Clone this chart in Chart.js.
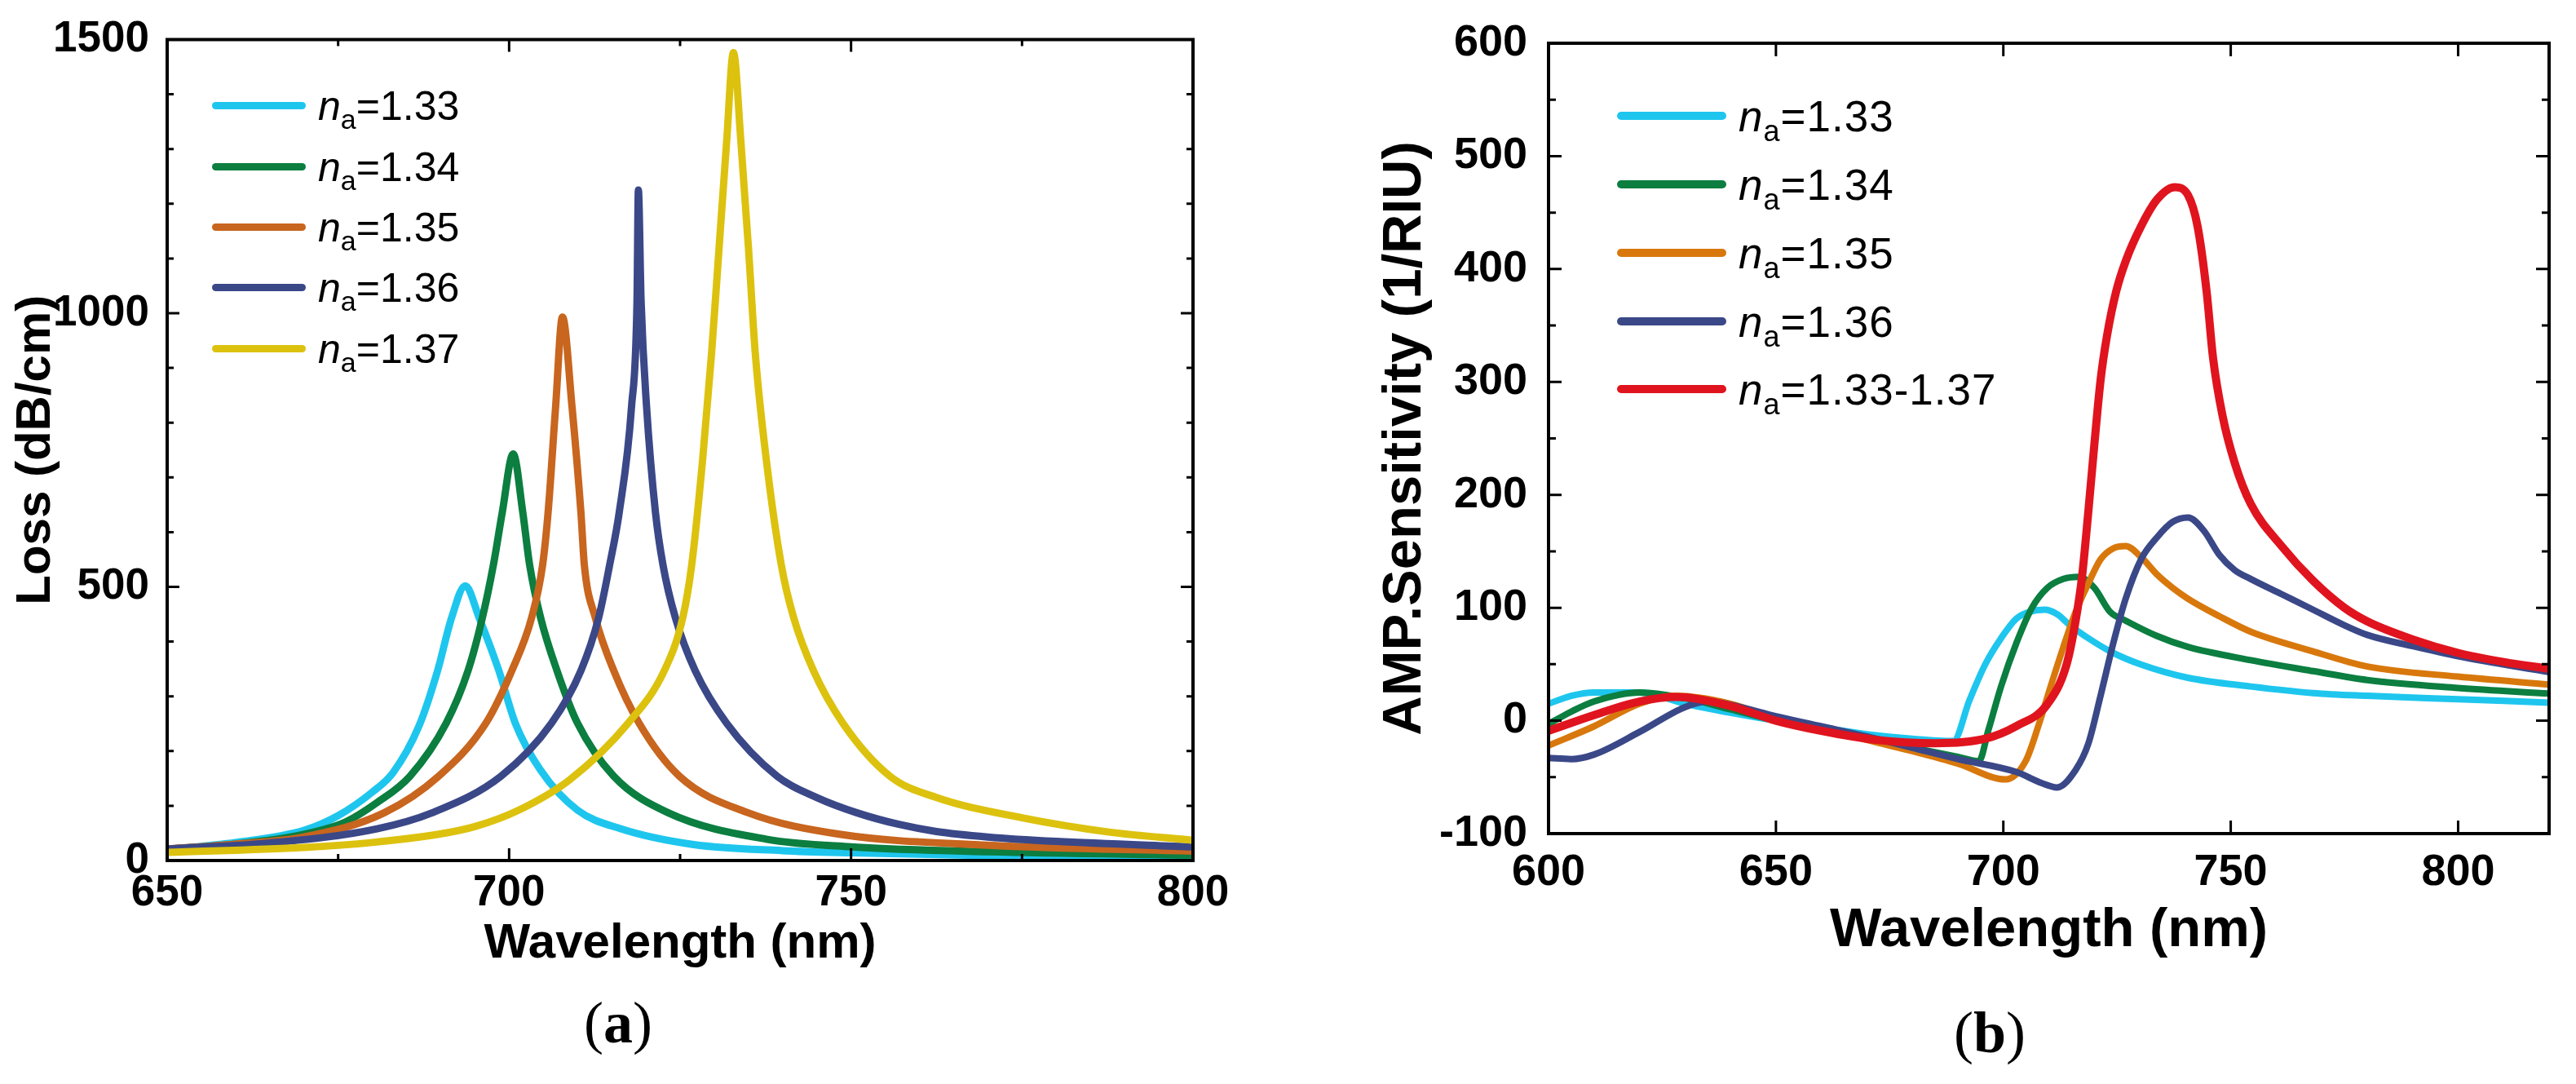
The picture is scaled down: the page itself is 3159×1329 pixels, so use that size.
<!DOCTYPE html>
<html><head><meta charset="utf-8">
<script src="https://cdn.jsdelivr.net/npm/chart.js@4.4.0/dist/chart.umd.min.js"></script>
<style>
html,body{margin:0;padding:0;background:#fff;}
#wrap{position:relative;width:3159px;height:1329px;overflow:hidden;background:#fff;font-family:"Liberation Sans",Arial,sans-serif;}
canvas{position:absolute;top:0;}
.lg-line{position:absolute;border-radius:5px;}
.lg-text{position:absolute;line-height:1;white-space:nowrap;color:#000;}
.lg-text sub{font-size:0.68em;vertical-align:-0.32em;line-height:0;}
.cap{position:absolute;width:200px;text-align:center;font-family:"Liberation Serif","Times New Roman",serif;font-size:72px;line-height:1;color:#000;}
</style></head><body>
<div id="wrap">
<canvas id="ca" width="1560" height="1329" style="left:0"></canvas>
<canvas id="cb" width="1579" height="1329" style="left:1580px"></canvas>
<div class="cap" style="left:658px;top:1218px">(<b>a</b>)</div>
<div class="cap" style="left:2340px;top:1230px">(<b>b</b>)</div>
</div>
<script>
// ---------- Panel (a): Loss (dB/cm) ----------
const lossLabels = ['1.33','1.34','1.35','1.36','1.37'];
const lossXTicks = [650,700,750,800];
const lossXMinor = [675,725,775];
const lossYTicks = [0,500,1000,1500];
const lossYMinor = [100,200,300,400,600,700,800,900,1100,1200,1300,1400];

const lossWl133 = [650,660,670,675,680,683,686.8,689.5,691.6,693.6,695.6,698.5,700.9,704.6,710,716.3,727,740,750,770,800];
const loss133   = [20,33,55,82,125,160,245,345,444,502,444,347,251,165,92,58,29,18,14,9,5];

const lossWl134 = [650,660,670,676,680.7,685.5,690.8,694,696.1,697.7,699,700.6,702,703,704.6,707,710,715.3,723.3,737.6,750,770,800];
const loss134   = [21,30,48,70,106,154,251,347,444,540,636,743,636,540,444,347,251,154,87,39,25,16,10];

const lossWl135 = [650,660,670,681.7,689.7,696.6,700.4,703.3,704.9,705.7,706.8,707.8,709.2,710.5,711,712.6,715.3,719,724.9,735,748.3,770,800];
const loss135   = [21,30,43,87,154,251,347,444,540,636,829,993,829,636,540,444,347,251,154,87,48,28,17];

const lossWl136 = [650,665,680.7,688.7,698.8,706.2,710.5,713.1,714.7,716.1,717.9,718.7,718.9,719.3,720.1,721.4,722.5,724.3,727.2,731.8,739.2,745,750.9,757,762.5,770,780,800];
const loss136   = [21,32,58,87,154,251,347,444,540,636,829,1022,1225,1022,829,636,540,444,347,251,154,115,87,66,53,43,35,25];

const lossWl137 = [650,670,680,689.7,695,701.4,708.9,717.4,722.7,725.4,726.7,728.3,729.6,730.7,731.8,732.8,733.9,735,736,737.6,739.8,741.6,744.5,748.8,755.7,762.5,775,787.7,800];
const loss137   = [15,24,33,48,62,92,148,251,347,444,540,733,926,1119,1312,1476,1312,1119,926,733,540,444,347,251,154,115,78,52,37];

const lossColors = ['#1ec6ee','#0b7e40','#c8651e','#3a4888','#dcc20e'];

// ---------- Panel (b): AMP.Sensitivity (1/RIU) ----------
const sensLabels = ['1.33','1.34','1.35','1.36','1.33-1.37'];
const sensXTicks = [600,650,700,750,800];
const sensYTicks = [-100,0,100,200,300,400,500,600];
const sensYMinor = [-50,50,150,250,350,450,550];

const sensWl133 = [600,605,610,620,630,640,650,660,670,680,689,692.6,696,699.5,702.9,706.3,709.1,711.8,714.6,718.7,723.5,730.3,740.6,754.4,768.1,780,800,820];
const sens133   = [15,22,25,25,15,7,0,-6,-12,-16,-18,18.6,49.7,73,90.5,97,98.3,94.4,84.7,73,61.4,49.7,38,30.3,24.5,22,19,16];

const sensWl134 = [600,605,610,620,630,640,650,660,670,680,690,694.6,696.7,699.5,702.9,706.3,709.7,713.2,716.6,720,723.5,726.9,733.8,740.6,754.4,768.1,780,800,820];
const sens134   = [-3,8,17,25,20,10,0,-8,-16,-24,-32,-36,-8.6,30.3,69,100,117.7,125.5,127.4,117.7,96.3,88.6,75,65.3,53.6,43.9,36,29,24];

const sensWl135 = [600,610,620,628,640,650,660,670,680,690,700.5,704.9,707.7,710.4,713.2,715.9,718.7,721.4,724.2,726.9,730.3,733.8,737.2,740.6,747.5,754.4,768.1,780,800,820];
const sens135   = [-22,-5,15,22,15,2,-6,-17,-27,-38,-52,-35.8,-4.7,30.3,65.3,96.3,121.6,143,152.7,154.6,144.9,129.4,117.7,108,92.5,78.8,61.4,48,39,32];

const sensWl136 = [600,605,610,620,630,635,640,650,660,670,680,690,702.9,708.4,711.8,715.9,718.7,721.4,724.2,726.9,730.3,733.8,737.2,740.6,744.1,747.5,750.9,754.4,761.2,768.1,774.9,780,790,800,820];
const sens136   = [-33,-34,-30,-10,12,17,14,4,-5,-14,-24,-34,-45.5,-55.2,-59.1,-43.6,-20.2,22.5,69,108,143,162.4,176,179.9,168.2,146.9,133.3,125.5,112,98.3,84.7,76,66,57,43];

const sensWl137 = [600,610,620,628,640,650,660,672,685,696,702.9,709.7,713.9,715.9,717.3,718.7,720,721.4,722.8,724.8,726.9,730.3,733.8,737.7,740.6,742.7,744.7,746.1,748.2,750.9,754.4,761.2,768.1,775,780,790,800,810,820];
const sens137   = [-9,5,17,21,13,0,-9,-17,-20,-16,-4.7,14.7,49.7,88.6,127.4,185.7,244,302.3,341,380,407,438,461.6,472.5,465.5,438,380,321.7,270,228,192,154.6,124,100,88,72,60,52,46];

const sensColors = ['#1ec6ee','#0b7e40','#d8780c','#3a4888','#e0141e'];

// ---------- helpers ----------
const fam = '"Liberation Sans", Arial, Helvetica, sans-serif';

const framePlugin = {
  id: 'frame',
  afterDraw(chart, args, o) {
    const {ctx, chartArea: a} = chart;
    const x = chart.scales.x, y = chart.scales.y;
    ctx.save();
    ctx.strokeStyle = '#000';
    ctx.lineCap = 'butt';
    ctx.lineWidth = o.tickWidth;
    ctx.beginPath();
    const xt = (vals, len) => vals.forEach(v => {
      const p = x.getPixelForValue(v);
      ctx.moveTo(p, a.bottom); ctx.lineTo(p, a.bottom - len);
      ctx.moveTo(p, a.top); ctx.lineTo(p, a.top + len);
    });
    const yt = (vals, len) => vals.forEach(v => {
      const p = y.getPixelForValue(v);
      ctx.moveTo(a.left, p); ctx.lineTo(a.left + len, p);
      ctx.moveTo(a.right, p); ctx.lineTo(a.right - len, p);
    });
    xt(o.xMajor, o.major); xt(o.xMinor, o.minor);
    yt(o.yMajor, o.major); yt(o.yMinor, o.minor);
    ctx.stroke();
    ctx.lineWidth = o.frameWidth;
    ctx.strokeRect(a.left, a.top, a.right - a.left, a.bottom - a.top);
    ctx.restore();
  }
};

function makeDatasets(pairs, labels, colors, widths) {
  return pairs.map((p, i) => ({
    label: 'na=' + labels[i],
    labelValue: labels[i],
    data: p[0].map((v, j) => ({x: v, y: p[1][j]})),
    borderColor: colors[i],
    backgroundColor: colors[i],
    borderWidth: widths[i],
    pointRadius: 0,
    cubicInterpolationMode: 'monotone',
    fill: false,
    order: -i,
    clip: 2,
    borderCapStyle: 'round',
    borderJoinStyle: 'round'
  }));
}

function makeChart(id, c) {
  return new Chart(document.getElementById(id), {
    type: 'line',
    data: {datasets: c.datasets},
    options: {
      responsive: false, animation: false, devicePixelRatio: 1, events: [],
      layout: {padding: {top: c.padTop, right: c.padRight, bottom: 0, left: 0}},
      plugins: {legend: {display: false}, tooltip: {enabled: false}, frame: c.frame},
      scales: {
        x: {
          type: 'linear', min: c.xMin, max: c.xMax,
          afterBuildTicks: s => { s.ticks = c.xTicks.map(v => ({value: v})); },
          afterFit: s => { s.height = c.xHeight; },
          grid: {display: false, drawTicks: false}, border: {display: false},
          ticks: {padding: c.xTickPad, color: '#000', autoSkip: false, maxRotation: 0,
                  font: {family: fam, size: c.tickSize, weight: 'bold', lineHeight: 1},
                  callback: v => String(v)},
          title: {display: true, text: 'Wavelength (nm)', color: '#000',
                  font: {family: fam, size: c.titleSize, weight: 'bold', lineHeight: 1},
                  padding: {top: 0, bottom: c.xTitlePad}}
        },
        y: {
          type: 'linear', min: c.yMin, max: c.yMax,
          afterBuildTicks: s => { s.ticks = c.yTicks.map(v => ({value: v})); },
          afterFit: s => { s.width = c.yWidth; },
          grid: {display: false, drawTicks: false}, border: {display: false},
          ticks: {padding: c.yTickPad, color: '#000', autoSkip: false,
                  font: {family: fam, size: c.tickSize, weight: 'bold', lineHeight: 1},
                  callback: v => String(v)},
          title: {display: true, text: c.yTitle, color: '#000',
                  font: {family: fam, size: c.titleSize, weight: 'bold', lineHeight: 1},
                  padding: {top: c.yTitlePad, bottom: 0}}
        }
      }
    },
    plugins: [framePlugin]
  });
}

function buildLegend(chart, offsetX, L) {
  const wrap = document.getElementById('wrap');
  chart.data.datasets.forEach((ds, i) => {
    const y = L.rows[i];
    const line = document.createElement('div');
    line.className = 'lg-line';
    Object.assign(line.style, {left: (offsetX + L.x0) + 'px', top: (y - L.lw / 2) + 'px',
      width: (L.x1 - L.x0) + 'px', height: L.lw + 'px', background: ds.borderColor});
    wrap.appendChild(line);
    const t = document.createElement('div');
    t.className = 'lg-text';
    Object.assign(t.style, {left: (offsetX + L.tx) + 'px', top: (y - 0.49 * L.fs) + 'px',
      fontSize: L.fs + 'px', letterSpacing: L.ls + 'px'});
    t.innerHTML = '<i>n</i><sub>a</sub>=' + ds.labelValue;
    wrap.appendChild(t);
  });
}

// ---------- build panel (a) ----------
const chartA = makeChart('ca', {
  datasets: makeDatasets(
    [[lossWl133, loss133], [lossWl134, loss134], [lossWl135, loss135], [lossWl136, loss136], [lossWl137, loss137]],
    lossLabels, lossColors, [9, 9, 9, 9, 9]),
  padTop: 43, padRight: 97, xHeight: 274, yWidth: 205,
  xMin: 650, xMax: 800, yMin: 0, yMax: 1500,
  xTicks: lossXTicks, yTicks: lossYTicks,
  tickSize: 53, titleSize: 60, xTickPad: 14, yTickPad: 22,
  xTitlePad: 142, yTitlePad: 14, yTitle: 'Loss (dB/cm)',
  frame: {xMajor: lossXTicks, xMinor: lossXMinor, yMajor: lossYTicks, yMinor: lossYMinor,
          major: 15, minor: 8, tickWidth: 3, frameWidth: 4}
});
buildLegend(chartA, 0, {rows: [129, 204, 278, 352, 427], x0: 260, x1: 375, tx: 390, lw: 9, fs: 50, ls: 0});

// ---------- build panel (b) ----------
const chartB = makeChart('cb', {
  datasets: makeDatasets(
    [[sensWl133, sens133], [sensWl134, sens134], [sensWl135, sens135], [sensWl136, sens136], [sensWl137, sens137]],
    sensLabels, sensColors, [8, 8, 8, 8, 10]),
  padTop: 34, padRight: 33, xHeight: 307, yWidth: 319,
  xMin: 600, xMax: 820, yMin: -100, yMax: 600,
  xTicks: sensXTicks, yTicks: sensYTicks,
  tickSize: 54, titleSize: 67, xTickPad: 21, yTickPad: 26,
  xTitlePad: 154, yTitlePad: 110, yTitle: 'AMP.Sensitivity (1/RIU)',
  frame: {xMajor: sensXTicks, xMinor: [], yMajor: sensYTicks, yMinor: sensYMinor,
          major: 16, minor: 9, tickWidth: 3, frameWidth: 4}
});
buildLegend(chartB, 1580, {rows: [142, 226, 310, 394, 477], x0: 403, x1: 537, tx: 552, lw: 10, fs: 53, ls: 1});
</script>
</body></html>
